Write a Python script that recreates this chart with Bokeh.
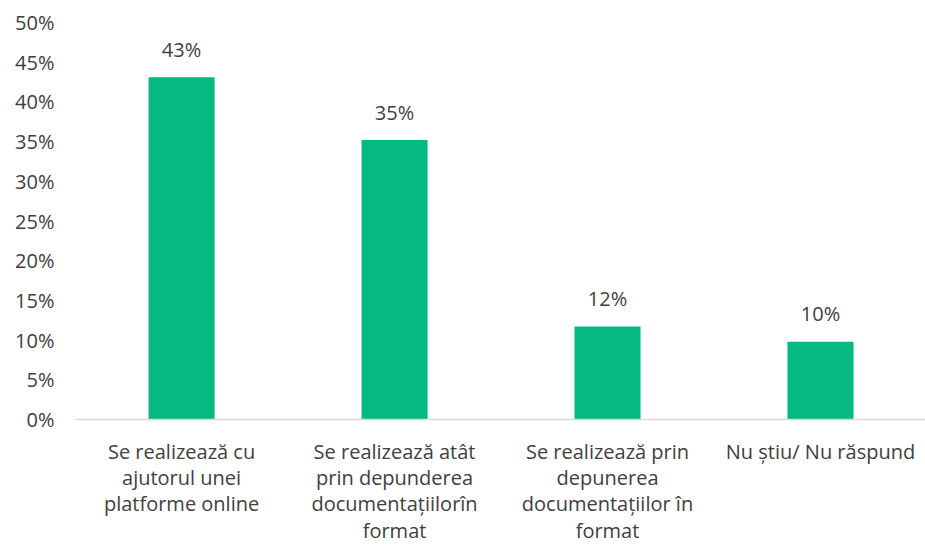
from bokeh.plotting import figure
from bokeh.models import Range1d, FixedTicker, PrintfTickFormatter, ColumnDataSource
from bokeh.core.properties import value
from bokeh.embed import file_html
from bokeh.resources import INLINE

categories = [
    "Se realizează cu\najutorul unei\nplatforme online",
    "Se realizează atât\nprin depunderea\ndocumentațiilorîn\nformat",
    "Se realizează prin\ndepunerea\ndocumentațiilor în\nformat",
    "Nu știu/ Nu răspund",
]
values = [43.1, 35.2, 11.7, 9.8]
y_ticks = [0, 5, 10, 15, 20, 25, 30, 35, 40, 45, 50]

FONT = "Open Sans"
FS = "20px"
TXT = "#404040"
GREEN = "#05B982"

xs = list(range(len(categories)))
labels = [f"{round(v)}%" for v in values]
src = ColumnDataSource(dict(x=xs, top=values, label=labels))

p = figure(width=925, height=548, output_backend="svg", toolbar_location=None,
           x_range=Range1d(-0.498, 3.493), y_range=Range1d(0, 50),
           min_border_left=75, min_border_top=22, min_border_bottom=129,
           min_border_right=0)
p.outline_line_color = None
p.xgrid.visible = False
p.ygrid.visible = False
p.background_fill_color = "white"
p.border_fill_color = "white"

p.vbar(x="x", top="top", width=0.31, bottom=0, source=src,
       fill_color=GREEN, line_color=None)
p.text(x="x", y="top", text="label", source=src, text_align="center",
       text_baseline="middle", y_offset=-28, text_font=value(FONT),
       text_font_size=FS, text_color=TXT)

ya = p.yaxis[0]
ya.ticker = FixedTicker(ticks=y_ticks)
ya.formatter = PrintfTickFormatter(format="%d%%")
ya.axis_line_color = None
ya.major_tick_line_color = None
ya.minor_tick_line_color = None
ya.major_label_text_font = FONT
ya.major_label_text_font_size = FS
ya.major_label_text_color = TXT
ya.major_label_standoff = 15

xa = p.xaxis[0]
xa.ticker = FixedTicker(ticks=xs)
xa.major_label_overrides = {i: c for i, c in enumerate(categories)}
xa.axis_line_color = "#D9D9D9"
xa.axis_line_width = 1.5
xa.major_tick_line_color = None
xa.minor_tick_line_color = None
xa.major_label_text_font = FONT
xa.major_label_text_font_size = FS
xa.major_label_text_color = TXT
xa.major_label_text_line_height = 0.98
xa.major_label_standoff = 12

open("out.html", "w").write(file_html(p, INLINE))
